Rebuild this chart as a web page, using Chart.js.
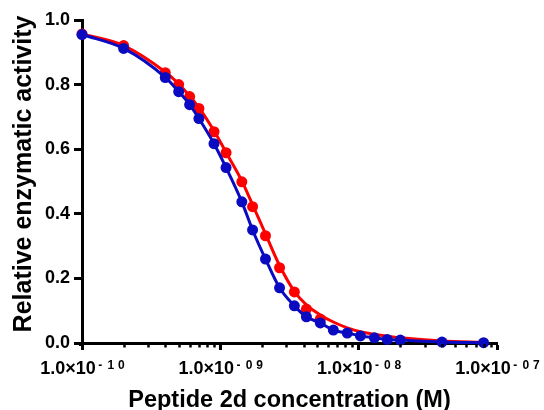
<!DOCTYPE html>
<html lang="en">
<head>
    <meta charset="UTF-8">
    <title>Peptide 2d concentration response</title>
    <script src="https://cdn.jsdelivr.net/npm/chart.js"></script>
    <style>
        body, html {
            margin: 0;
            padding: 0;
            background-color: #ffffff;
        }
        .chart-container {
            width: 544px;
            height: 410px;
        }
    </style>
</head>
<body>
    <div class="chart-container">
        <canvas id="activityChart" width="544" height="410"></canvas>
    </div>

    <script>
        // concentrations (M)
        const concentrations = [1e-10, 2e-10, 4e-10, 5e-10, 6e-10, 7e-10, 9e-10, 1.1e-9, 1.43e-9, 1.71e-9,
            2.12e-9, 2.68e-9, 3.43e-9, 4.19e-9, 5.28e-9, 6.56e-9, 8.27e-9, 1.03e-8, 1.3e-8, 1.61e-8,
            2e-8, 4e-8, 8e-8];

        const blueActivity = [0.955, 0.912, 0.822, 0.778, 0.738, 0.695, 0.617, 0.543, 0.437, 0.350,
            0.260, 0.171, 0.115, 0.081, 0.062, 0.040, 0.031, 0.022, 0.016, 0.011,
            0.009, 0.003, 0.001];

        // red points visible in the picture (the rest sit under the blue ones)
        const redActivity = [0.957, 0.921, 0.837, 0.800, 0.763, 0.726, 0.654, 0.589, 0.499, 0.422,
            0.332, 0.233, 0.158, 0.105, 0.074];

        // red fitted curve, read at the same concentrations
        const redFit = [0.957, 0.921, 0.839, 0.802, 0.765, 0.729, 0.657, 0.590, 0.502, 0.428,
            0.338, 0.240, 0.160, 0.118, 0.087, 0.065, 0.047, 0.035, 0.027, 0.021,
            0.016, 0.006, 0.002];

        const xTickValues = [1e-10, 1e-9, 1e-8, 1e-7];
        const yTickValues = [0, 0.2, 0.4, 0.6, 0.8, 1.0];
        const yTitle = 'Relative enzymatic activity';

        const RED = '#ff0000';
        const BLUE = '#0a0ac0';
        const FONT = 'Arial, "Liberation Sans", sans-serif';

        function toPoints(xs, ys) {
            return ys.map((y, i) => ({ x: xs[i], y: y }));
        }

        // minor log ticks, "1.0x10^-n" labels and the y title
        const axisDecor = {
            id: 'axisDecor',
            afterDraw(chart) {
                const ctx = chart.ctx;
                const xs = chart.scales.x;
                const area = chart.chartArea;
                ctx.save();
                ctx.fillStyle = '#000';
                ctx.fillRect(area.left - 3, area.bottom, 3, 3);

                ctx.strokeStyle = '#000';
                ctx.lineWidth = 2.5;
                for (let d = 0; d < xTickValues.length - 1; d++) {
                    for (let k = 2; k < 10; k++) {
                        const px = Math.round(xs.getPixelForValue(k * xTickValues[d])) + 0.5;
                        ctx.beginPath();
                        ctx.moveTo(px, area.bottom + 1);
                        ctx.lineTo(px, area.bottom + 4.5);
                        ctx.stroke();
                    }
                }

                ctx.textBaseline = 'alphabetic';
                xTickValues.forEach(v => {
                    const exp = Math.round(Math.log10(v));
                    const sup = ['-'].concat(String(Math.abs(exp)).padStart(2, '0').split(''));
                    ctx.font = 'bold 18px ' + FONT;
                    const mainW = ctx.measureText('1.0×10').width;
                    const left = xs.getPixelForValue(v) - (mainW + 28) / 2;
                    ctx.textAlign = 'left';
                    ctx.fillText('1.0×10', left, area.bottom + 30.5);
                    ctx.font = 'bold 12px ' + FONT;
                    ctx.textAlign = 'center';
                    [4.5, 15, 25.5].forEach((dx, i) => {
                        ctx.fillText(sup[i], left + mainW + dx, area.bottom + 26);
                    });
                });

                ctx.translate(30.5, 174);
                ctx.rotate(-Math.PI / 2);
                ctx.font = 'bold 25px ' + FONT;
                ctx.textAlign = 'center';
                ctx.fillText(yTitle, 0, 0);
                ctx.restore();
            }
        };

        const ctx = document.getElementById('activityChart').getContext('2d');
        const activityChart = new Chart(ctx, {
            type: 'line',
            data: {
                datasets: [
                    {
                        label: 'Blue',
                        data: toPoints(concentrations, blueActivity),
                        borderColor: BLUE,
                        backgroundColor: BLUE,
                        borderWidth: 3,
                        pointRadius: 5.5,
                        pointBorderWidth: 0,
                        pointBackgroundColor: BLUE,
                        cubicInterpolationMode: 'monotone',
                        clip: false,
                        order: 0
                    },
                    {
                        label: 'Red points',
                        data: toPoints(concentrations, redActivity),
                        showLine: false,
                        pointRadius: 5.5,
                        pointBorderWidth: 0,
                        pointBackgroundColor: RED,
                        borderColor: RED,
                        clip: false,
                        order: 1
                    },
                    {
                        label: 'Red fit',
                        data: toPoints(concentrations, redFit),
                        borderColor: RED,
                        borderWidth: 3,
                        pointRadius: 0,
                        cubicInterpolationMode: 'monotone',
                        clip: false,
                        order: 2
                    }
                ]
            },
            options: {
                responsive: false,
                animation: false,
                layout: {
                    padding: { top: 20, right: 47, bottom: 0, left: 0 }
                },
                plugins: {
                    legend: { display: false },
                    tooltip: { enabled: false }
                },
                scales: {
                    x: {
                        type: 'logarithmic',
                        min: 1e-10,
                        max: 1e-7,
                        afterBuildTicks: scale => {
                            scale.ticks = xTickValues.map(v => ({ value: v, major: true }));
                        },
                        afterFit: scale => { scale.height = 67; },
                        ticks: { display: false },
                        grid: {
                            drawOnChartArea: false,
                            drawTicks: true,
                            tickLength: 7,
                            tickWidth: 3,
                            tickColor: '#000'
                        },
                        border: { display: true, color: '#000', width: 3 },
                        title: {
                            display: true,
                            text: 'Peptide 2d concentration (M)',
                            color: '#000',
                            font: { family: FONT, size: 23.5, weight: 'bold' },
                            padding: { top: 0, bottom: -5 }
                        }
                    },
                    y: {
                        min: 0,
                        max: 1,
                        afterBuildTicks: scale => {
                            scale.ticks = yTickValues.map(v => ({ value: v }));
                        },
                        afterFit: scale => { scale.width = 82; },
                        ticks: {
                            padding: 4,
                            color: '#000',
                            font: { family: FONT, size: 18, weight: 'bold' },
                            callback: v => Number(v).toFixed(1)
                        },
                        grid: {
                            drawOnChartArea: false,
                            drawTicks: true,
                            tickLength: 8,
                            tickWidth: 3,
                            tickColor: '#000'
                        },
                        border: { display: true, color: '#000', width: 3 }
                    }
                }
            },
            plugins: [axisDecor]
        });
    </script>
</body>
</html>
